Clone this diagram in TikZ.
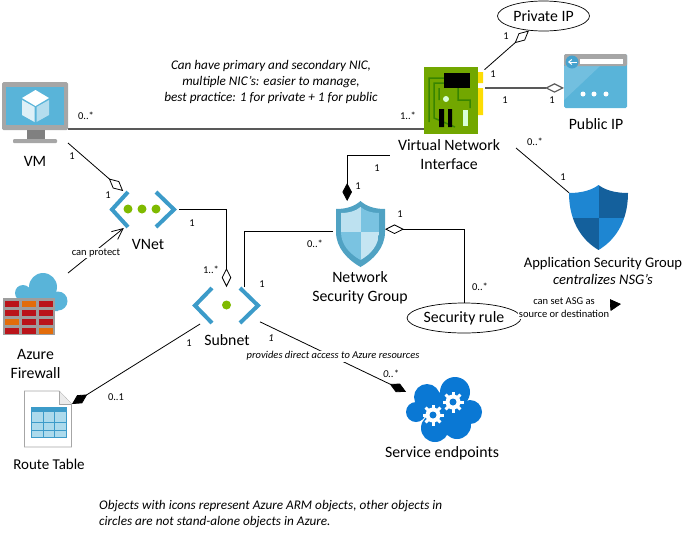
\documentclass[tikz,border=0pt]{standalone}
\usepackage{fontspec}
\setmainfont{Carlito}
\usetikzlibrary{arrows.meta,positioning,shapes.geometric}

\definecolor{azblue}{HTML}{59B4D9}
\definecolor{chevblue}{HTML}{3C9BC9}
\definecolor{dotgreen}{HTML}{7FBA00}
\definecolor{asglight}{HTML}{1E86D2}
\definecolor{asgdark}{HTML}{14609C}
\definecolor{svcblue}{HTML}{0A78D4}
\definecolor{brickred}{HTML}{BA141A}
\definecolor{brickorange}{HTML}{E36C0A}

\tikzset{
  iconbox/.style={inner sep=0pt, outer sep=0pt, minimum width=#1},
  name text/.style={font=\fontsize{15.8}{19}\selectfont, align=center, inner sep=0pt},
  multlabel/.style={font=\fontsize{10.5}{12}\selectfont, inner sep=0pt},
  small text/.style={font=\fontsize{10.5}{13}\selectfont, align=center, fill=white, inner sep=1pt},
  thin line/.style={draw=black, line width=0.8pt},
  heavy line/.style={draw=black!65, line width=1.8pt},
  openrhomb/.style={-{Diamond[open,length=19pt,width=9.5pt]}},
  fullrhomb/.style={-{Diamond[fill=black,length=18pt,width=9.5pt]}},
  circled/.style={draw=black, line width=0.7pt, ellipse, inner sep=0pt, font=\fontsize{15.8}{18}\selectfont},
}

\begin{document}
\begin{tikzpicture}[x=1pt,y=-1pt]
  \useasboundingbox (0,0) rectangle (690,539);

  % icon boxes
  \node [iconbox=66pt, minimum height=61pt] (vm) at (35,112.5) {};
  \node [iconbox=66pt, minimum height=37pt] (vnet) at (143,209.5) {};
  \node [iconbox=65pt, minimum height=62pt] (firewall) at (35.5,304) {};
  \node [iconbox=67pt, minimum height=37pt] (subnet) at (226.5,305.5) {};
  \node [iconbox=48pt, minimum height=56pt] (route) at (48,419) {};
  \node [iconbox=49pt, minimum height=66pt] (nsg) at (360.5,234) {};
  \node [iconbox=59pt, minimum height=67pt] (nic) at (453.5,100.5) {};
  \node [iconbox=63pt, minimum height=54pt] (pubip) at (595.5,81) {};
  \node [iconbox=59pt, minimum height=65pt] (asg) at (598.5,217.5) {};
  \node [iconbox=76pt, minimum height=65pt] (svc) at (444,409.5) {};

  % circles
  \node [circled, minimum width=92pt, minimum height=30pt] (privateip) at (543.5,16) {Private IP};
  \node [circled, minimum width=93pt, minimum height=30pt] (rule) at (464,318) {Security rule};

  % names
  \node [name text] (vmname) at (35,161) {VM};
  \node [name text] (vnetname) at (148,244) {VNet};
  \node [name text] (firewallname) at (35.5,363.5) {Azure\\Firewall};
  \node [name text, font=\fontsize{15}{19}\selectfont] (routename) at (49,464) {Route Table};
  \node [name text] (subnetname) at (227,340) {Subnet};
  \node [name text] (nsgname) at (360,287.5) {Network\\Security Group};
  \node [name text, inner xsep=8pt] (nicname) at (449,155) {Virtual Network\\Interface};
  \node [name text] (pubipname) at (596,124) {Public IP};
  \node [name text] (svcname) at (442,453) {Service endpoints};
  \node [name text, font=\fontsize{14.6}{17}\selectfont] (asgname) at (603,270.5) {Application Security Group\\\itshape centralizes NSG’s};

  % free ends
  \coordinate (nicasg) at (516,148);
  \coordinate (asgset) at (621,304);

  % connectors
  \draw [heavy line] (vm.-26) -- (vm.-26 -| nic.west);
  \draw [thin line, openrhomb] (vm.south east) -- (vnet.137);
  \draw [thin line, openrhomb, shorten <=3pt] (vnet.east) -| (subnet.north);
  \draw [thin line, shorten <=3pt] (nsg.175) -| (subnet.46);
  \draw [thin line, fullrhomb] (nicname.west) -| (nsg.112);
  \draw [thin line, openrhomb, shorten <=2pt] (nic.45) -- (privateip.225);
  \draw [heavy line, line width=1.2pt, openrhomb, shorten <=2pt] (nic.23) -- (nic.23 -| pubip.west);
  \draw [thin line] (nicasg) -- (asg.140);
  \draw [thin line, openrhomb] (rule.north) |- (nsg.11);
  \draw [thin line, -{Triangle[length=11pt,width=12pt]}] (rule.5) -- (asgset);
  \draw [thin line, fullrhomb] (subnet.-26) -- (svc.155);
  \draw [thin line, fullrhomb] (subnet.215) -- (route.32);
  \draw [thin line, -{Straight Barb[length=11pt,width=10pt]}] (firewall.north east) -- (vnet.224);

  % connector texts
  \node [small text] (protect) at (96,253) {can protect};
  \node [small text] (setasg) at (564,308) {can set ASG as\\source or destination};
  \node [small text, font=\fontsize{10.5}{13}\selectfont\itshape] (direct) at (333,356) {provides direct access to Azure resources};

  % multiplicities
  \foreach \x/\y/\t [count=\i] in {86/116/0..*, 72/156/1, 108/195/1, 192/223/1, 315/244/0..*,
      211/270/1..*, 262/284/1, 408/116/1..*, 493/74/1, 506/36/1, 505/100/1, 552/100/1,
      535/142/0..*, 563/177/1, 377/168/1, 358/186/1, 400/214/1, 480/287/0..*, 189/343/1, 116/397/0..1}
    \node [multlabel] (mult\i) at (\x,\y) {\t};
  \node [multlabel, font=\fontsize{10.5}{12}\selectfont\itshape] (multa) at (271,338) {1};
  \node [multlabel, font=\fontsize{10.5}{12}\selectfont\itshape] (multb) at (391,374) {0..*};

  % notes
  \node [font=\fontsize{13.2}{16}\selectfont\itshape, align=center, inner sep=0pt] (nicnote) at (271,82)
    {Can have primary and secondary NIC,\\multiple NIC’s: easier to manage,\\best practice: 1 for private + 1 for public};
  \node [font=\fontsize{13.2}{16}\selectfont\itshape, align=left, inner sep=0pt, anchor=north west] (iconnote) at (99,500)
    {Objects with icons represent Azure ARM objects, other objects in\\circles are not stand-alone objects in Azure.};

  % VM
  \fill [black!35, rounded corners=1.5pt] (2,82) rectangle (68,130);
  \fill [azblue] (6,87) rectangle (64,125);
  \fill [black!50] (27,130) rectangle (45,139);
  \fill [black!35, rounded corners=1pt] (13,139) rectangle (57,143);
  \fill [white] (35.5,90) -- (49,98) -- (35.5,106) -- (22,98) -- cycle;
  \fill [white!80!azblue] (22,100) -- (34.5,107) -- (34.5,122) -- (22,115) -- cycle;
  \fill [white!55!azblue] (36.5,107) -- (49,100) -- (49,115) -- (36.5,122) -- cycle;

  % VNet and Subnet
  \draw [chevblue, line width=4pt] (128,192) -- (112,209.5) -- (128,227);
  \draw [chevblue, line width=4pt] (156,192) -- (174,209.5) -- (156,227);
  \foreach \x in {128,142,156}
    \fill [dotgreen] (\x,209) circle (4.5pt);
  \draw [chevblue, line width=4pt] (212,288) -- (195,305.5) -- (212,323);
  \draw [chevblue, line width=4pt] (240,288) -- (258,305.5) -- (240,323);
  \fill [dotgreen] (226.5,305) circle (4.5pt);

  % Firewall
  \fill [azblue] (43,287) circle (14pt) (23,293) circle (8pt) (58,301) circle (9.5pt) (17,293) rectangle (58,311);
  \fill [black!38] (3,298) rectangle (55,335);
  \foreach \y/\a/\b/\c in {301/brickred/brickorange/brickred, 310/brickred/brickred/brickred,
      319/brickorange/brickred/brickred, 328/brickred/brickred/brickorange} {
    \fill [\a] (5,\y) rectangle ++(14,5.5);
    \fill [\b] (22,\y) rectangle ++(14,5.5);
    \fill [\c] (39,\y) rectangle ++(14,5.5);
  }

  % Route table
  \draw [black!35, fill=white, line width=0.8pt] (24.5,391) -- (59,391) -- (71.5,404) -- (71.5,447) -- (24.5,447) -- cycle;
  \draw [black!35, fill=black!8, line width=0.6pt] (59,391) -- (59,404) -- (71.5,404);
  \fill [azblue!50] (31,407) rectangle (66,437);
  \fill [chevblue] (31,407) rectangle (66,412);
  \foreach \x in {43,54.5}
    \draw [chevblue, line width=0.8pt] (\x,412) -- (\x,437);
  \foreach \y in {422,430}
    \draw [chevblue, line width=0.8pt] (31,\y) -- (66,\y);
  \draw [chevblue, line width=0.8pt] (31,407) rectangle (66,437);

  % NSG
  \fill [azblue!90!black] (336,209) .. controls (347,209) and (355,206) .. (360.5,201)
     .. controls (366,206) and (374,209) .. (385,209)
     -- (385,232) .. controls (385,248) and (373,260) .. (360.5,267)
     .. controls (348,260) and (336,248) .. (336,232) -- cycle;
  \begin{scope}
    \clip (341,213) .. controls (349,213) and (356,211) .. (360.5,207)
     .. controls (365,211) and (372,213) .. (379,213)
     -- (379,232) .. controls (379,245) and (371,254) .. (360.5,260)
     .. controls (350,254) and (341,245) .. (341,232) -- cycle;
    \fill [azblue!40] (341,207) rectangle (360.5,232);
    \fill [azblue!80] (360.5,207) rectangle (379,232);
    \fill [azblue!80] (341,232) rectangle (360.5,260);
    \fill [azblue!35] (360.5,232) rectangle (379,260);
  \end{scope}

  % NIC
  \fill [yellow!80!orange] (478,72) rectangle (483,83) (478,88) rectangle (483,115);
  \fill [dotgreen!90!black] (424,67) rectangle (478,134);
  \draw [dotgreen!55!black!80!green, line width=1.5pt] (444,78) -- (429,78) -- (429,122)
    (444,83) -- (434,83) -- (434,118) -- (455,127) (439,88) -- (439,100) (458,88) -- (458,100) -- (470,100) -- (470,108);
  \fill [black] (444,73) rectangle (470,88);
  \fill [black] (439,109) rectangle (444,127) (448,109) rectangle (452,127);
  \fill [white!85!green] (463,110) rectangle (468,126);
  \fill [white!85!green] (446,99) circle (3pt);

  % Public IP
  \fill [azblue, rounded corners=1.5pt] (564,54) rectangle (627,108);
  \fill [azblue!85!white] (564,66) -- (600,66) -- (564,100) -- cycle;
  \fill [black!35, rounded corners=1.5pt] (564,54) rectangle (627,66);
  \fill [white] (580,59) rectangle (623,64);
  \fill [chevblue!70!azblue] (572,62) circle (6.5pt);
  \draw [white, line width=1pt, -{Straight Barb[length=3pt,width=5pt]}] (577,62) -- (568,62);
  \foreach \x in {583,594,606}
    \fill [white] (\x,94) circle (2.5pt);

  % ASG
  \begin{scope}
    \clip (569,193) .. controls (582,193) and (592,190) .. (598.5,185)
      .. controls (605,190) and (615,193) .. (628,193)
      .. controls (628,225) and (612,242) .. (598.5,250)
      .. controls (585,242) and (569,225) .. (569,193) -- cycle;
    \fill [asglight] (565,183) rectangle (598.5,218);
    \fill [asgdark] (598.5,183) rectangle (630,218);
    \fill [asgdark] (565,218) rectangle (598.5,252);
    \fill [asglight] (598.5,218) rectangle (630,252);
  \end{scope}

  % Service endpoints
  \foreach \x/\y/\r in {427/397/13, 455/392/15, 416/412/10, 470/412/12, 435/428/14, 457/425/14, 443/410/18}
    \fill [svcblue] (\x,\y) circle (\r pt);
  \foreach \x/\y in {433/415, 453/402} {
    \fill [white] (\x,\y) circle (7.5pt);
    \foreach \a in {0,45,...,315}
      \draw [white, line width=3pt] (\x,\y) -- ++(\a:10.5);
    \fill [svcblue] (\x,\y) circle (3.5pt);
  }

\end{tikzpicture}
\end{document}
